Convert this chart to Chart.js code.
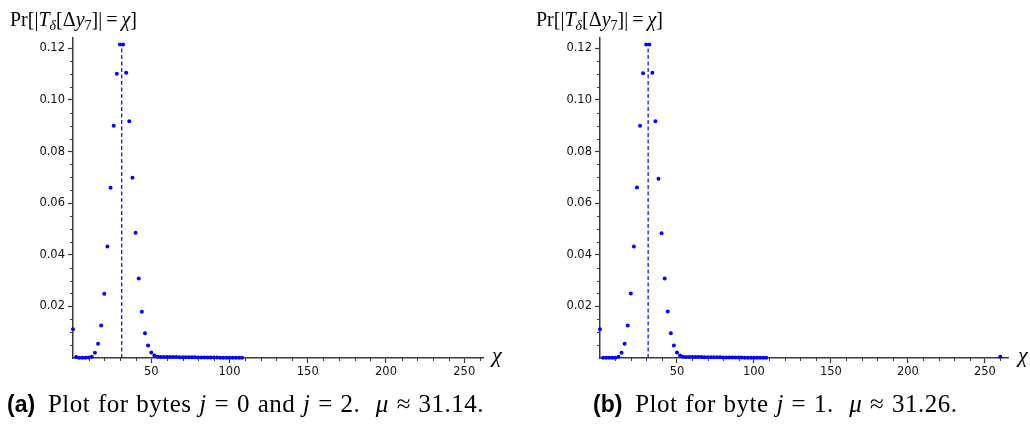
<!DOCTYPE html>
<html>
<head>
<meta charset="utf-8">
<script src="https://cdn.jsdelivr.net/npm/chart.js@4.4.1/dist/chart.umd.min.js"></script>
<style>
  body { margin:0; background:#fff; width:1030px; height:427px; position:relative; overflow:hidden; }
  canvas { position:absolute; top:0; }
  #cA { left:0; }
  #cB { left:520px; }
  .ylab { position:absolute; font-family:"Liberation Serif", serif; font-size:20px; line-height:20px; white-space:nowrap; color:#000; }
  .ylab sub { font-size:14px; vertical-align:-4px; line-height:0; }
  .xlab { position:absolute; font-family:"Liberation Serif", serif; font-style:italic; font-size:22px; line-height:22px; }
  .cap { position:absolute; font-family:"Liberation Serif", serif; font-size:25px; line-height:25px; white-space:nowrap;
         letter-spacing:0.5px; word-spacing:1px; }
  .cap b { font-family:"Liberation Sans", sans-serif; font-weight:bold; font-size:23px; letter-spacing:0; margin-right:5px; }
</style>
</head>
<body>
<canvas id="cA" width="515" height="392"></canvas>
<canvas id="cB" width="510" height="392"></canvas>

<div class="ylab" style="left:10px; top:9px;">Pr[|<i>T</i><sub><i>δ</i></sub>[Δ<i>y</i><sub>7</sub>]|&#8201;=&#8201;<i>χ</i>]</div>
<div class="ylab" style="left:536px; top:9px;">Pr[|<i>T</i><sub><i>δ</i></sub>[Δ<i>y</i><sub>7</sub>]|&#8201;=&#8201;<i>χ</i>]</div>
<div class="xlab" style="left:492px; top:344px;">χ</div>
<div class="xlab" style="left:1018px; top:344px;">χ</div>
<div class="cap" style="left:7px; top:391px;"><b>(a)</b> Plot for bytes <i>j</i> = 0 and <i>j</i> = 2.&nbsp; <i>μ</i> ≈ 31.14.</div>
<div class="cap" style="left:593px; top:391px;"><b>(b)</b> Plot for byte <i>j</i> = 1.&nbsp; <i>μ</i> ≈ 31.26.</div>

<script>
// chi values (even counts) and Pr values
const chiA = [0, 2, 4, 6, 8, 10, 12, 14, 16, 18, 20, 22, 24, 26, 28, 30, 32, 34, 36, 38,
              40, 42, 44, 46, 48, 50, 52, 54, 56, 58, 60, 62, 64, 66, 68, 70, 72, 74, 76, 78,
              80, 82, 84, 86, 88, 90, 92, 94, 96, 98, 100, 102, 104, 106, 108];
const probA = [0.0111, 0.0004, 0.0001, 0.0001, 0.0001, 0.0002, 0.0005, 0.0020, 0.0055, 0.0126,
               0.0249, 0.0432, 0.0660, 0.0900, 0.1101, 0.1215, 0.1215, 0.1105, 0.0917, 0.0698,
               0.0485, 0.0308, 0.0179, 0.0096, 0.0048, 0.0021, 0.0010, 0.0005, 0.0004, 0.0004,
               0.0004, 0.0004, 0.0004, 0.0004, 0.0003, 0.0003, 0.0003, 0.0003, 0.0003, 0.0003,
               0.0002, 0.0002, 0.0002, 0.0002, 0.0002, 0.0002, 0.0002, 0.0001, 0.0001, 0.0001,
               0.0001, 0.0001, 0.0001, 0.0001, 0.0001];
const muA = 31.14;

const chiB = [0, 2, 4, 6, 8, 10, 12, 14, 16, 18, 20, 22, 24, 26, 28, 30, 32, 34, 36, 38,
              40, 42, 44, 46, 48, 50, 52, 54, 56, 58, 60, 62, 64, 66, 68, 70, 72, 74, 76, 78,
              80, 82, 84, 86, 88, 90, 92, 94, 96, 98, 100, 102, 104, 106, 108, 260];
const probB = [0.0111, 0.0001, 0.0001, 0.0001, 0.0001, 0.0001, 0.0005, 0.0020, 0.0055, 0.0126,
               0.0250, 0.0432, 0.0661, 0.0900, 0.1103, 0.1215, 0.1215, 0.1105, 0.0917, 0.0695,
               0.0483, 0.0308, 0.0180, 0.0096, 0.0048, 0.0021, 0.0010, 0.0005, 0.0004, 0.0004,
               0.0004, 0.0004, 0.0004, 0.0004, 0.0003, 0.0003, 0.0003, 0.0003, 0.0003, 0.0003,
               0.0002, 0.0002, 0.0002, 0.0002, 0.0002, 0.0002, 0.0002, 0.0001, 0.0001, 0.0001,
               0.0001, 0.0001, 0.0001, 0.0001, 0.0001, 0.0005];
const muB = 31.26;

const xTicks = [50, 100, 150, 200, 250];
const yTicks = [0.02, 0.04, 0.06, 0.08, 0.10, 0.12];

const blue = '#0000ff';
const axisColor = '#3a3a3a';
const tickFont = { family: 'DejaVu Sans', size: 11.5 };

// small unlabeled ticks between the labeled ones
const minorTicks = {
    id: 'minorTicks',
    afterDraw(chart) {
        const { ctx, scales: { x, y } } = chart;
        ctx.save();
        ctx.strokeStyle = axisColor;
        ctx.lineWidth = 1;
        ctx.beginPath();
        for (let v = 10; v < x.max; v += 10) {
            if (v % 50 === 0) continue;
            const px = Math.round(x.getPixelForValue(v)) + 0.5;
            ctx.moveTo(px, y.bottom);
            ctx.lineTo(px, y.bottom + 3);
        }
        for (let k = 1; k * 0.005 < y.max; k++) {
            if (k % 4 === 0) continue;
            const py = Math.round(y.getPixelForValue(k * 0.005)) + 0.5;
            ctx.moveTo(x.left, py);
            ctx.lineTo(x.left - 3, py);
        }
        ctx.stroke();
        ctx.restore();
    }
};

function makeChart(id, chi, prob, mu, xMax, yWidth, padRight) {
    const peak = Math.max(...prob);
    return new Chart(document.getElementById(id), {
        type: 'scatter',
        data: {
            datasets: [
                {
                    data: chi.map((c, i) => ({ x: c, y: prob[i] })),
                    backgroundColor: blue,
                    borderWidth: 0,
                    pointRadius: 2,
                    pointHoverRadius: 2,
                    clip: false,
                    order: 1
                },
                {
                    type: 'line',
                    data: [{ x: mu, y: 0 }, { x: mu, y: peak }],
                    borderColor: blue,
                    borderWidth: 1.2,
                    borderDash: [4, 2.5],
                    pointRadius: 0,
                    order: 2
                }
            ]
        },
        options: {
            responsive: false,
            animation: false,
            events: [],
            layout: { padding: { top: 38, right: padRight, left: 0, bottom: 0 } },
            plugins: {
                legend: { display: false },
                tooltip: { enabled: false }
            },
            scales: {
                x: {
                    type: 'linear',
                    min: 0,
                    max: xMax,
                    afterBuildTicks: s => { s.ticks = xTicks.map(v => ({ value: v })); },
                    afterFit: s => { s.height = 34; },
                    grid: { drawOnChartArea: false, tickLength: 5, tickColor: axisColor, tickWidth: 1.2 },
                    border: { color: axisColor, width: 1.5 },
                    ticks: { font: tickFont, color: '#111', padding: 2, maxRotation: 0, autoSkip: false }
                },
                y: {
                    min: 0,
                    max: 0.124,
                    afterBuildTicks: s => { s.ticks = yTicks.map(v => ({ value: v })); },
                    afterFit: s => { s.width = yWidth; },
                    grid: { drawOnChartArea: false, tickLength: 5, tickColor: axisColor, tickWidth: 1.2 },
                    border: { color: axisColor, width: 1.5 },
                    ticks: { font: tickFont, color: '#111', padding: 3, autoSkip: false,
                             callback: v => v.toFixed(2) }
                }
            }
        },
        plugins: [minorTicks]
    });
}

makeChart('cA', chiA, probA, muA, 262, 73, 32);
makeChart('cB', chiB, probB, muB, 265, 80, 22);
</script>
</body>
</html>
